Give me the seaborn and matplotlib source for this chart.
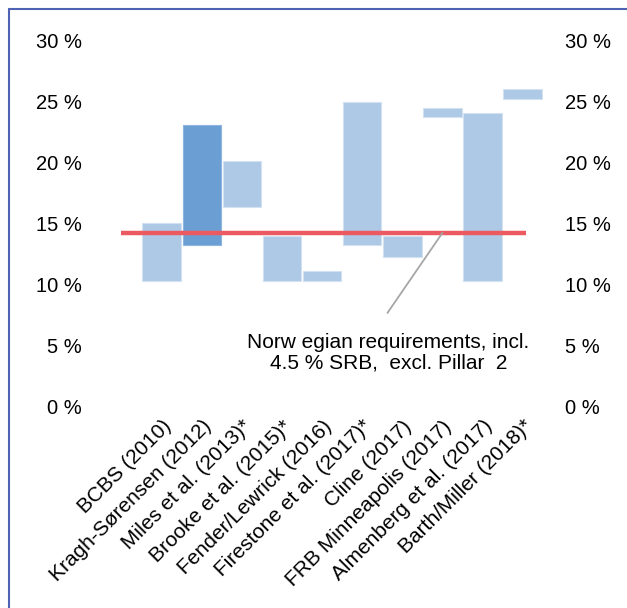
import matplotlib
matplotlib.use('Agg')
import matplotlib.pyplot as plt
import seaborn as sns
import pandas as pd
from matplotlib.lines import Line2D

# studies and their estimated ranges (%)
studies = ['BCBS (2010)', 'Kragh-Sørensen (2012)', 'Miles et al. (2013)*',
           'Brooke et al. (2015)*', 'Fender/Lewrick (2016)', 'Firestone et al. (2017)*',
           'Cline (2017)', 'FRB Minneapolis (2017)', 'Almenberg et al. (2017)',
           'Barth/Miller (2018)*']
low = [10.3, 13.3, 16.4, 10.3, 10.3, 13.3, 12.3, 23.7, 10.3, 25.2]
high = [15.05, 23.05, 20.1, 14.0, 11.1, 25.0, 14.0, 24.5, 24.05, 26.0]
norway_req = 14.25
yticks = [0, 5, 10, 15, 20, 25, 30]
ytick_labels = ['0 %', '5 %', '10 %', '15 %', '20 %', '25 %', '30 %']
note = 'Norw egian requirements, incl.\n4.5 % SRB,  excl. Pillar  2'

light = '#aec9e6'
dark = '#6b9ed2'
red = '#ea5a60'

df = pd.DataFrame({'study': studies, 'low': low, 'high': high})
df['span'] = df['high'] - df['low']

sns.set_style('white')
plt.rcParams['font.family'] = ['Liberation Sans', 'DejaVu Sans']
plt.rcParams['text.color'] = 'black'
plt.rcParams['xtick.labelcolor'] = 'black'
plt.rcParams['ytick.labelcolor'] = 'black'
fs = 14.5

fig = plt.figure(figsize=(6.27, 6.08), dpi=100)
ax = fig.add_axes([101.55 / 627, 201 / 608, 441.1 / 627, 366.5 / 608])

sns.barplot(data=df, x='study', y='span', order=studies, bottom=df['low'].values,
            color=light, width=0.96, errorbar=None, edgecolor='#d3e2f2',
            linewidth=0.8, saturation=1, ax=ax)
ax.patches[1].set_facecolor(dark)
ax.patches[1].set_edgecolor('#8db5df')

ax.plot([-1.02, 9.08], [norway_req, norway_req], color=red, lw=3.2,
        solid_capstyle='butt', zorder=5)

ax.annotate('', xy=(7.0, norway_req), xytext=(5.63, 7.7),
            arrowprops=dict(arrowstyle='-', color='#a6a6a6', lw=1.3,
                            shrinkA=0, shrinkB=0), zorder=6)
ax.text(5.65, 4.42, note, ha='center', va='center', fontsize=15,
        linespacing=1.1, color='black')

ax.set_xlim(-1.5, 9.5)
ax.set_ylim(0, 30)
ax.set_xlabel('')
ax.set_ylabel('')
ax.set_yticks(yticks)
ax.set_yticklabels(ytick_labels, fontsize=fs)
ax.tick_params(axis='y', length=0, pad=14, labelcolor='black')
ax.set_xticks(range(len(studies)))
ax.set_xticklabels(studies, rotation=45, ha='right', rotation_mode='anchor',
                   fontsize=15)
ax.tick_params(axis='x', length=0, pad=7, labelcolor='black')
for s in ax.spines.values():
    s.set_visible(False)

ax2 = ax.twinx()
ax2.set_ylim(0, 30)
ax2.set_yticks(yticks)
ax2.set_yticklabels(ytick_labels, fontsize=fs)
ax2.tick_params(axis='y', length=0, pad=16, labelcolor='black')
for s in ax2.spines.values():
    s.set_visible(False)

# outer frame (top and left visible)
border = '#4f63b5'
fig.add_artist(Line2D([8.5 / 627, 8.5 / 627], [0, 599.5 / 608], color=border,
                      lw=1.5, transform=fig.transFigure))
fig.add_artist(Line2D([8.5 / 627, 1], [599.5 / 608, 599.5 / 608], color=border,
                      lw=1.5, transform=fig.transFigure))

fig.savefig('out.png', dpi=100)
